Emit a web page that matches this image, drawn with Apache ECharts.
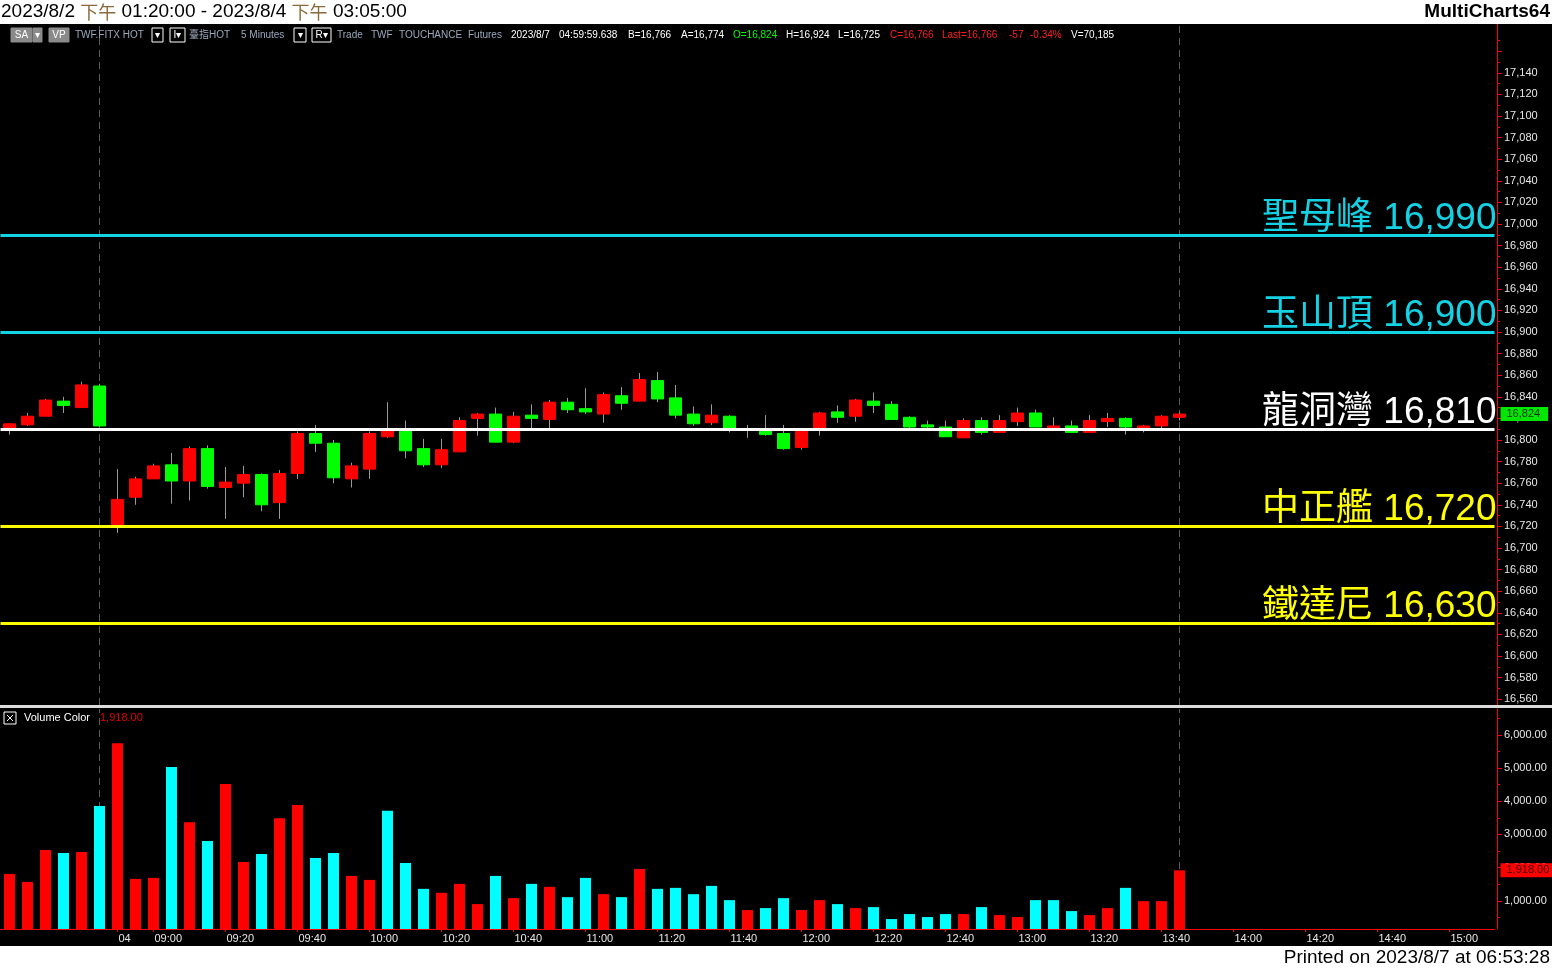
<!DOCTYPE html>
<html><head><meta charset="utf-8">
<script src="https://cdn.jsdelivr.net/npm/echarts@6/dist/echarts.min.js"></script>
<style>html,body{margin:0;padding:0;background:#000;}#c{width:1552px;height:969px;}</style>
</head><body><div id="c"></div><script>
// ---------- data ----------
const categories = ['8/3 13:20','8/3 13:25','8/3 13:30','8/3 13:35','8/3 13:40','8/3 13:45',
'8/4 08:50','8/4 08:55','8/4 09:00','8/4 09:05','8/4 09:10','8/4 09:15','8/4 09:20','8/4 09:25','8/4 09:30','8/4 09:35',
'8/4 09:40','8/4 09:45','8/4 09:50','8/4 09:55','8/4 10:00','8/4 10:05','8/4 10:10','8/4 10:15','8/4 10:20','8/4 10:25',
'8/4 10:30','8/4 10:35','8/4 10:40','8/4 10:45','8/4 10:50','8/4 10:55','8/4 11:00','8/4 11:05','8/4 11:10','8/4 11:15',
'8/4 11:20','8/4 11:25','8/4 11:30','8/4 11:35','8/4 11:40','8/4 11:45','8/4 11:50','8/4 11:55','8/4 12:00','8/4 12:05',
'8/4 12:10','8/4 12:15','8/4 12:20','8/4 12:25','8/4 12:30','8/4 12:35','8/4 12:40','8/4 12:45','8/4 12:50','8/4 12:55',
'8/4 13:00','8/4 13:05','8/4 13:10','8/4 13:15','8/4 13:20','8/4 13:25','8/4 13:30','8/4 13:35','8/4 13:40','8/4 13:45',
'8/4 13:50','8/4 13:55','8/4 14:00','8/4 14:05','8/4 14:10','8/4 14:15','8/4 14:20','8/4 14:25','8/4 14:30','8/4 14:35',
'8/4 14:40','8/4 14:45','8/4 14:50','8/4 14:55','8/4 15:00','8/4 15:05','8/4 15:10'];

const opens  = [16811,16814,16822,16836,16830,16850,16721,16747,16764,16777,16762,16792,16756,16760,16768,16742,16769,16806,16797,16764,16773,16803,16808,16792,16777,16789,16820,16824,16798,16823,16819,16835,16829,16824,16841,16836,16855,16839,16824,16816,16822,16809,16808,16806,16793,16811,16826,16822,16836,16833,16821,16814,16812,16802,16818,16807,16817,16825,16811,16813,16807,16817,16820,16811,16813,16821];
const highs  = [16815,16825,16838,16840,16854,16852,16773,16766,16778,16788,16794,16795,16775,16776,16769,16772,16808,16814,16800,16779,16808,16835,16818,16801,16801,16821,16825,16830,16826,16833,16837,16839,16848,16844,16849,16862,16863,16851,16831,16833,16823,16814,16823,16814,16810,16826,16832,16838,16844,16836,16822,16818,16818,16820,16821,16823,16830,16828,16821,16818,16823,16825,16821,16814,16823,16826];
const lows   = [16805,16813,16822,16825,16830,16812,16714,16740,16764,16741,16744,16755,16727,16747,16734,16727,16764,16789,16760,16756,16764,16802,16783,16775,16774,16789,16804,16798,16797,16811,16811,16825,16824,16816,16828,16836,16835,16820,16813,16814,16807,16802,16804,16791,16791,16804,16816,16817,16825,16819,16811,16811,16803,16802,16805,16807,16813,16812,16810,16807,16807,16812,16805,16807,16811,16818];
const closes = [16815,16822,16837,16832,16851,16813,16745,16764,16776,16762,16792,16757,16761,16768,16740,16769,16806,16797,16765,16776,16806,16809,16790,16777,16791,16818,16824,16798,16822,16820,16835,16828,16826,16842,16834,16856,16838,16823,16815,16823,16810,16810,16805,16792,16808,16825,16821,16837,16832,16819,16812,16812,16803,16818,16807,16818,16825,16812,16813,16807,16818,16820,16812,16813,16822,16824];

const volumes = [1810,1570,2530,2440,2470,3860,5750,1660,1690,5030,3370,2800,4520,2170,2410,3490,3890,2290,2440,1750,1630,3710,2140,1360,1240,1510,900,1750,1080,1510,1420,1110,1690,1200,1110,1960,1360,1390,1200,1450,1020,720,780,1080,720,1020,900,780,810,450,600,510,600,600,810,570,510,1020,1020,690,570,780,1390,990,990,1918];
// 1 = red (up) volume bar, 0 = cyan (down) volume bar
const volUp = [1,1,1,0,1,0,1,1,1,0,1,0,1,1,0,1,1,0,0,1,1,0,0,0,1,1,1,0,1,0,1,0,0,1,0,1,0,0,0,0,0,1,0,0,1,1,0,1,0,0,0,0,0,1,0,1,1,0,0,0,1,1,0,1,1,1];

const levelNames  = ['聖母峰','玉山頂','龍洞灣','中正艦','鐵達尼'];
const levelValues = [16990,16900,16810,16720,16630];

const xTickCats  = ['8/4 08:50','8/4 09:00','8/4 09:20','8/4 09:40','8/4 10:00','8/4 10:20','8/4 10:40','8/4 11:00','8/4 11:20','8/4 11:40','8/4 12:00','8/4 12:20','8/4 12:40','8/4 13:00','8/4 13:20','8/4 13:40','8/4 14:00','8/4 14:20','8/4 14:40','8/4 15:00'];
const xTickTexts = ['04','09:00','09:20','09:40','10:00','10:20','10:40','11:00','11:20','11:40','12:00','12:20','12:40','13:00','13:20','13:40','14:00','14:20','14:40','15:00'];

const priceLabels = [16560,16580,16600,16620,16640,16660,16680,16700,16720,16740,16760,16780,16800,16820,16840,16860,16880,16900,16920,16940,16960,16980,17000,17020,17040,17060,17080,17100,17120,17140];
const priceMajorTicks = priceLabels.concat([17160]);
const priceMinorTicks = [16570,16590,16610,16630,16650,16670,16690,16710,16730,16750,16770,16790,16810,16830,16850,16870,16890,16910,16930,16950,16970,16990,17010,17030,17050,17070,17090,17110,17130,17150,17170];
const volLabels = [1000,2000,3000,4000,5000,6000];
const volMinorTicks = [500,1500,2500,3500,4500,5500,6500];

const sessionBreaks = ['8/3 13:45','8/4 13:45'];

// ---------- styling ----------
const FONT = '"Liberation Sans", Arial, "Noto Sans CJK TC", sans-serif';
const CJK = '"Noto Sans CJK TC", "Noto Sans CJK SC", sans-serif';
const levelColors = ['#14d2e4','#14d2e4','#ffffff','#ffff00','#ffff00'];
const PRICE_MIN = 16554.6, PRICE_MAX = 17185.2;
const VOL_MIN = 150, VOL_MAX = 6780;
const AX_OFF = 2.5;

const fmt = v => Number(v).toLocaleString('en-US');
const fmt2 = v => Number(v).toLocaleString('en-US',{minimumFractionDigits:2, maximumFractionDigits:2});

const wickData = opens.map((o,i)=>[o, closes[i], lows[i], highs[i]]);
const bodyData = opens.map((o,i)=>[o, closes[i], Math.min(o,closes[i]), Math.max(o,closes[i])]);
const volData = volumes.map((v,i)=>({value:v, itemStyle:{color: volUp[i] ? '#ff0000' : '#00ffff'}}));

const tickSet = new Set(xTickCats);
const tickMap = {}; xTickCats.forEach((c,i)=>tickMap[c]=xTickTexts[i]);

const chart = echarts.init(document.getElementById('c'), null, {renderer:'canvas'});

function hdrText(x, text, color){
  return {type:'text', x:x, y:35, z:50, style:{text:text, fill:color, fontSize:10, fontFamily:FONT, verticalAlign:'middle'}};
}
function box(x, w, fill, stroke, label){
  return {type:'group', x:x, y:28, z:50, children:[
    {type:'rect', shape:{x:0,y:0,width:w,height:14}, style:{fill:fill, stroke:stroke, lineWidth:1}},
    {type:'text', x:w/2, y:7, style:{text:label, fill:'#fff', fontSize:10, fontFamily:FONT, align:'center', verticalAlign:'middle'}}
  ]};
}

const option = {
  animation:false,
  backgroundColor:'#000',
  textStyle:{fontFamily:FONT},
  grid:[
    {left:0.5, top:24, width:1494, height:681},
    {left:0.5, top:709, width:1494, height:220}
  ],
  xAxis:[
    {type:'category', gridIndex:0, data:categories, boundaryGap:true,
     axisLine:{show:false}, axisTick:{show:false}, axisLabel:{show:false}, splitLine:{show:false}},
    {type:'category', gridIndex:1, data:categories, boundaryGap:true,
     axisLine:{show:true, lineStyle:{color:'#ff0000', width:1}},
     axisTick:{show:true, alignWithLabel:true, length:3, lineStyle:{color:'#ff0000'},
               interval:(i,v)=>tickSet.has(v)},
     axisLabel:{show:true, interval:(i,v)=>tickSet.has(v), formatter:v=>tickMap[v]||'',
               color:'#e8e8e8', fontSize:11, align:'left', padding:[0,0,0,1], margin:4, fontFamily:FONT},
     splitLine:{show:false}}
  ],
  yAxis:[
    {type:'value', gridIndex:0, position:'right', offset:AX_OFF, min:PRICE_MIN, max:PRICE_MAX, splitLine:{show:false},
     axisLine:{show:true, lineStyle:{color:'#ff0000'}},
     axisTick:{show:true, customValues:priceMajorTicks, length:5, lineStyle:{color:'#ff0000'}},
     axisLabel:{show:true, customValues:priceLabels, formatter:fmt, color:'#e8e8e8', fontSize:11, margin:7, fontFamily:FONT}},
    {type:'value', gridIndex:0, position:'right', offset:AX_OFF, min:PRICE_MIN, max:PRICE_MAX, splitLine:{show:false},
     axisLine:{show:false},
     axisTick:{show:true, customValues:priceMinorTicks, length:3, lineStyle:{color:'#ff0000'}},
     axisLabel:{show:false}},
    {type:'value', gridIndex:1, position:'right', offset:AX_OFF, min:VOL_MIN, max:VOL_MAX, splitLine:{show:false},
     axisLine:{show:true, lineStyle:{color:'#ff0000'}},
     axisTick:{show:true, customValues:volLabels, length:5, lineStyle:{color:'#ff0000'}},
     axisLabel:{show:true, customValues:volLabels, formatter:fmt2, color:'#e8e8e8', fontSize:11, margin:7, fontFamily:FONT}},
    {type:'value', gridIndex:1, position:'right', offset:AX_OFF, min:VOL_MIN, max:VOL_MAX, splitLine:{show:false},
     axisLine:{show:false},
     axisTick:{show:true, customValues:volMinorTicks, length:3, lineStyle:{color:'#ff0000'}},
     axisLabel:{show:false}}
  ],
  series:[
    {type:'candlestick', name:'wick', xAxisIndex:0, yAxisIndex:0, data:wickData, barWidth:1, z:2,
     itemStyle:{color:'#9a9a9a', color0:'#9a9a9a', borderColor:'#9a9a9a', borderColor0:'#9a9a9a', borderWidth:1},
     markLine:{silent:true, symbol:'none', z:1, label:{show:false},
       lineStyle:{color:'#5a5a5a', type:[7,5], width:1},
       data: sessionBreaks.map(c=>({xAxis:c}))}},
    {type:'candlestick', name:'body', xAxisIndex:0, yAxisIndex:0, data:bodyData, barWidth:13, z:3,
     itemStyle:{color:'#ff0000', color0:'#00ff00', borderColor:'#ff0000', borderColor0:'#00ff00', borderWidth:1},
     markLine:{silent:true, symbol:'none', z:6,
       data: levelValues.map((v,i)=>({yAxis:v, name:levelNames[i],
         lineStyle:{color:levelColors[i], width:3, type:'solid'},
         label:{show:true, position:'insideEndTop', distance:[-2,-2], formatter:levelNames[i]+' '+fmt(v),
                color:levelColors[i], fontSize:37, fontFamily:FONT}}))
         .concat([{yAxis:closes[closes.length-1],
           lineStyle:{color:'rgba(0,0,0,0)', width:1, type:'solid'},
           label:{show:true, position:'end', distance:6, formatter:fmt(closes[closes.length-1]),
                  backgroundColor:'#00e600', color:'#003000', fontSize:11, padding:[2,8,1,6], fontFamily:FONT}}])}},
    {type:'bar', name:'volume', xAxisIndex:1, yAxisIndex:2, data:volData, barWidth:11, z:3,
     markLine:{silent:true, symbol:'none', z:1,
       data: sessionBreaks.map(c=>({xAxis:c, lineStyle:{color:'#5a5a5a', type:[7,5], width:1}, label:{show:false}}))
         .concat([{yAxis:volumes[volumes.length-1], lineStyle:{color:'rgba(0,0,0,0)', width:1, type:'solid'},
           label:{show:true, position:'end', distance:6, formatter:fmt2(volumes[volumes.length-1]),
                  backgroundColor:'#ff0000', color:'#3a0000', fontSize:11, padding:[2,4,1,6], fontFamily:FONT}}])}}
  ],
  graphic:[
    {type:'rect', z:40, shape:{x:0,y:0,width:1552,height:24}, style:{fill:'#ffffff'}},
    {type:'rect', z:40, shape:{x:0,y:946,width:1552,height:23}, style:{fill:'#ffffff'}},
    {type:'text', z:41, x:1, y:12, style:{
      text:'{a|2023/8/2 }{b|下午}{a| 01:20:00 - 2023/8/4 }{b|下午}{a| 03:05:00}',
      verticalAlign:'middle',
      rich:{a:{fontSize:19, fill:'#000', color:'#000', fontFamily:FONT},
            b:{fontSize:18, fill:'#8a6a3a', color:'#8a6a3a', fontFamily:CJK}}}},
    {type:'text', z:41, x:1550, y:12, style:{text:'MultiCharts64', fill:'#000', fontSize:19, fontWeight:'bold', fontFamily:FONT, align:'right', verticalAlign:'middle'}},
    {type:'text', z:41, x:1550, y:958, style:{text:'Printed on 2023/8/7 at 06:53:28', fill:'#000', fontSize:19, fontFamily:FONT, align:'right', verticalAlign:'middle'}},
    // pane separator
    {type:'rect', z:45, shape:{x:0,y:705,width:1552,height:3}, style:{fill:'#dcdcdc'}},
    // header row
    box(11, 21, '#8a8a8a', '#8a8a8a', 'SA'),
    box(33, 9, '#8a8a8a', '#8a8a8a', '▾'),
    box(49, 20, '#8a8a8a', '#8a8a8a', 'VP'),
    hdrText(75, 'TWF.FITX HOT', '#9aa8bc'),
    box(152, 11, '#000', '#ffffff', '▾'),
    box(170, 15, '#000', '#ffffff', 'I▾'),
    hdrText(189, '臺指HOT', '#9aa8bc'),
    hdrText(241, '5 Minutes', '#9aa8bc'),
    box(294, 12, '#000', '#ffffff', '▾'),
    box(312, 19, '#000', '#ffffff', 'R▾'),
    hdrText(337, 'Trade', '#9aa8bc'),
    hdrText(371, 'TWF', '#9aa8bc'),
    hdrText(399, 'TOUCHANCE', '#9aa8bc'),
    hdrText(468, 'Futures', '#9aa8bc'),
    hdrText(511, '2023/8/7', '#ffffff'),
    hdrText(559, '04:59:59.638', '#ffffff'),
    hdrText(628, 'B=16,766', '#ffffff'),
    hdrText(681, 'A=16,774', '#ffffff'),
    hdrText(733, 'O=16,824', '#00ff00'),
    hdrText(786, 'H=16,924', '#ffffff'),
    hdrText(838, 'L=16,725', '#ffffff'),
    hdrText(890, 'C=16,766', '#ff2020'),
    hdrText(942, 'Last=16,766', '#ff2020'),
    hdrText(1009, '-57', '#ff2020'),
    hdrText(1030, '-0.34%', '#ff2020'),
    hdrText(1071, 'V=70,185', '#ffffff'),
    // volume pane title
    {type:'group', x:4, y:712, z:50, children:[
      {type:'rect', shape:{x:0,y:0,width:12,height:12}, style:{fill:'#000', stroke:'#ffffff', lineWidth:1}},
      {type:'line', shape:{x1:3,y1:3,x2:9,y2:9}, style:{stroke:'#ffffff', lineWidth:1}},
      {type:'line', shape:{x1:9,y1:3,x2:3,y2:9}, style:{stroke:'#ffffff', lineWidth:1}}
    ]},
    {type:'text', z:50, x:24, y:718, style:{text:'Volume Color', fill:'#ffffff', fontSize:11, fontFamily:FONT, verticalAlign:'middle'}},
    {type:'text', z:50, x:100, y:718, style:{text:fmt2(volumes[volumes.length-1]), fill:'#e00000', fontSize:11, fontFamily:FONT, verticalAlign:'middle'}}
  ]
};
chart.setOption(option);
</script></body></html>
